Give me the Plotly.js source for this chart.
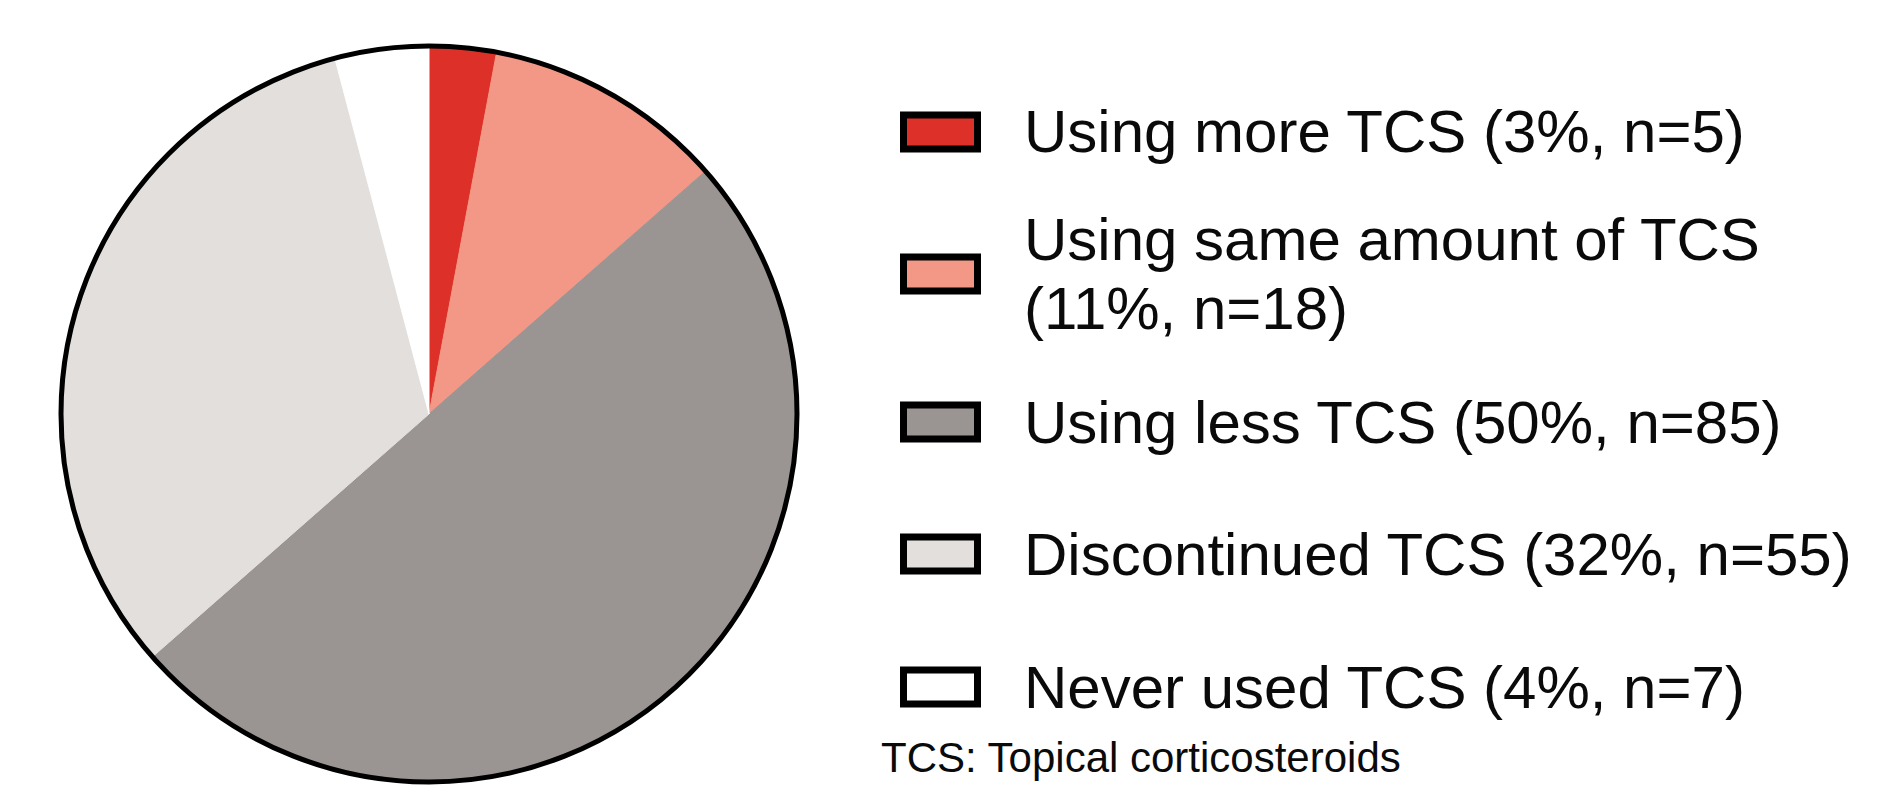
<!DOCTYPE html>
<html>
<head>
<meta charset="utf-8">
<script src="https://cdn.plot.ly/plotly-3.0.1.min.js"></script>
<style>
  html, body { margin: 0; padding: 0; background: #ffffff; }
  #chart { width: 1892px; height: 785px; }
</style>
</head>
<body>
<div id="chart"></div>
<script>
// ---- data ----
const categories = ["Using more TCS", "Using same amount of TCS", "Using less TCS", "Discontinued TCS", "Never used TCS"];
const counts = [5, 18, 85, 55, 7];
const percents = [3, 11, 50, 32, 4];
const sliceColors = ["#dc3029", "#f39886", "#9a9592", "#e3dfdc", "#ffffff"];
const footnote = "TCS: Topical corticosteroids";

// ---- layout helpers (pixel geometry) ----
const W = 1892, H = 785;
const px = x => x / W;
const py = y => 1 - y / H;

const cx = 429, cy = 414, R = 368;
const domX = [px(cx - R), px(cx + R)];
const domY = [py(cy + R), py(cy - R)];

const legendFont = { family: "Liberation Sans, Arial, Helvetica, sans-serif", size: 60, color: "#0a0a0a" };
const rowCenters = [132, 274, 422, 554, 687];
const wrapAt = [null, " (", null, null, null];
const lineGap = 69;

const traces = [
  {
    type: "pie",
    labels: categories,
    values: counts,
    sort: false,
    direction: "clockwise",
    rotation: 0,
    textinfo: "none",
    hoverinfo: "label+value+percent",
    marker: { colors: sliceColors, line: { color: sliceColors, width: 1 } },
    domain: { x: domX, y: domY },
    showlegend: false
  },
  {
    type: "pie",
    labels: ["outline"],
    values: [1],
    sort: false,
    textinfo: "none",
    hoverinfo: "skip",
    marker: { colors: ["rgba(0,0,0,0)"], line: { color: "#000000", width: 5 } },
    domain: { x: domX, y: domY },
    showlegend: false
  }
];

const shapes = [];
const annotations = [];
categories.forEach((cat, i) => {
  const c = rowCenters[i];
  shapes.push({
    type: "rect", xref: "paper", yref: "paper",
    x0: px(903.5), x1: px(977.5), y0: py(c + 17), y1: py(c - 17),
    fillcolor: sliceColors[i], line: { color: "#000000", width: 7 }
  });
  const full = cat + " (" + percents[i] + "%, n=" + counts[i] + ")";
  let lines = [full];
  if (wrapAt[i]) {
    lines = [cat, "(" + percents[i] + "%, n=" + counts[i] + ")"];
  }
  const start = c - (lines.length - 1) * lineGap / 2;
  lines.forEach((t, k) => {
    annotations.push({
      xref: "paper", yref: "paper",
      x: px(1022), y: py(start + k * lineGap),
      xanchor: "left", yanchor: "middle",
      text: t, showarrow: false, font: legendFont
    });
  });
});
annotations.push({
  xref: "paper", yref: "paper",
  x: px(879), y: py(757),
  xanchor: "left", yanchor: "middle",
  text: footnote, showarrow: false,
  font: { family: "Liberation Sans, Arial, Helvetica, sans-serif", size: 42, color: "#0a0a0a" }
});

const layout = {
  width: W, height: H,
  margin: { l: 0, r: 0, t: 0, b: 0 },
  paper_bgcolor: "#ffffff",
  plot_bgcolor: "#ffffff",
  showlegend: false,
  shapes: shapes,
  annotations: annotations
};

Plotly.newPlot("chart", traces, layout, { displayModeBar: false, staticPlot: true });
</script>
</body>
</html>
